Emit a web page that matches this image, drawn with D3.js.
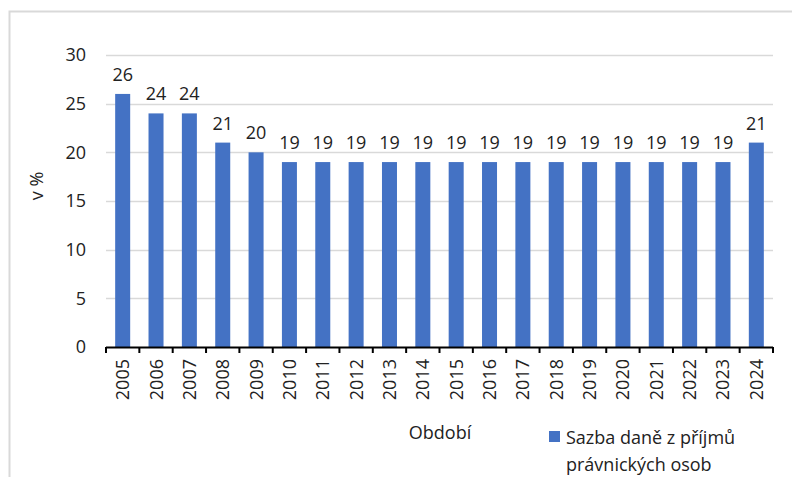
<!DOCTYPE html>
<html><head><meta charset="utf-8">
<script src="https://cdn.jsdelivr.net/npm/d3@7"></script>
<style>body{margin:0;background:#fff}svg{display:block}text{font-family:"Open Sans","Noto Sans",sans-serif;fill:#222}</style>
</head><body>
<script>
const years = ["2005","2006","2007","2008","2009","2010","2011","2012","2013","2014","2015","2016","2017","2018","2019","2020","2021","2022","2023","2024"];
const rates = [26,24,24,21,20,19,19,19,19,19,19,19,19,19,19,19,19,19,19,21];
const yTicks = [0,5,10,15,20,25,30];
const seriesName = ["Sazba daně z příjmů","právnických osob"];
const xTitle = "Období", yTitle = "v %";

const W=792,H=477,FS=18;
const svg=d3.select("body").append("svg").attr("width",W).attr("height",H);
svg.append("path").attr("d","M9.5,477 V11.5 H792").attr("fill","none").attr("stroke","#d9d9d9").attr("stroke-width",2);

const L=106,R=773,T=55,B=347;
const x=d3.scaleBand().domain(years).range([L,R]).paddingInner(0.55).paddingOuter(0.275);
const y=d3.scaleLinear().domain([0,30]).range([B,T]);

const g=svg.append("g");
g.selectAll(".grid").data(yTicks.filter(d=>d>0)).join("line")
 .attr("x1",L).attr("x2",R).attr("y1",d=>Math.round(y(d))+0.5).attr("y2",d=>Math.round(y(d))+0.5)
 .attr("stroke","#d9d9d9").attr("stroke-width",1.5);

g.selectAll(".ytl").data(yTicks).join("text")
 .attr("x",86).attr("y",d=>y(d)).attr("dy","0.36em").attr("text-anchor","end")
 .attr("font-size",FS).text(d=>d);

g.selectAll(".bar").data(rates).join("rect")
 .attr("x",(d,i)=>x(years[i])).attr("width",x.bandwidth())
 .attr("y",d=>y(d)).attr("height",d=>B-y(d)).attr("fill","#4472c4");

g.selectAll(".lbl").data(rates).join("text")
 .attr("x",(d,i)=>x(years[i])+x.bandwidth()/2).attr("y",d=>y(d)-13)
 .attr("text-anchor","middle").attr("font-size",FS).text(d=>d);

g.append("line").attr("x1",L).attr("x2",R).attr("y1",B+0.5).attr("y2",B+0.5).attr("stroke","#000").attr("stroke-width",2);
const step=x.step();
const bounds=d3.range(years.length+1).map(i=>L+i*step);
g.selectAll(".tk").data(bounds).join("line")
 .attr("x1",d=>d).attr("x2",d=>d).attr("y1",B).attr("y2",B+6).attr("stroke","#000").attr("stroke-width",2);

g.selectAll(".xtl").data(years).join("text")
 .attr("transform",d=>`translate(${x(d)+x.bandwidth()/2},${B+12}) rotate(-90)`)
 .attr("dy","0.36em").attr("text-anchor","end").attr("font-size",FS).text(d=>d);

svg.append("text").attr("x",440).attr("y",439).attr("text-anchor","middle").attr("font-size",FS).text(xTitle);
svg.append("text").attr("transform","translate(43,186) rotate(-90)").attr("text-anchor","middle").attr("font-size",FS).text(yTitle);

svg.append("rect").attr("x",549).attr("y",431).attr("width",11).attr("height",11).attr("fill","#4472c4");
svg.append("text").attr("x",566).attr("y",444).attr("font-size",FS).text(seriesName[0]);
svg.append("text").attr("x",566).attr("y",471).attr("font-size",FS).text(seriesName[1]);
</script>
</body></html>
